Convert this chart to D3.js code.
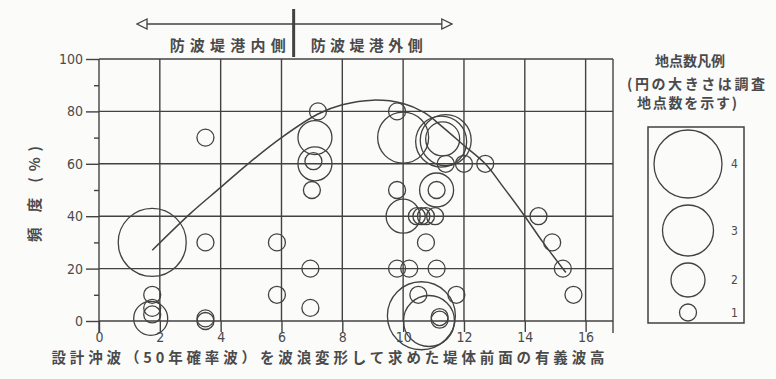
<!DOCTYPE html>
<html lang="ja">
<head>
<meta charset="UTF-8">
<title>波高と頻度</title>
<style>
  body { margin: 0; background: #fbfbfa; }
  svg { display: block; }
  text { fill: #4a4a4a; }
  .tick text { font-family: "DejaVu Sans Condensed", "Liberation Sans Narrow", sans-serif; font-size: 14px; }
  .jp { font-family: "Noto Sans CJK JP", "Noto Sans", sans-serif; font-weight: bold; }
</style>
</head>
<body>
<svg id="chart" width="776" height="379"></svg>
<script src="https://d3js.org/d3.v7.min.js"></script>
<script>
// data
const waveHeight = [1.75, 1.75, 1.75, 1.75, 1.7, 3.5, 3.5, 3.5, 3.5, 5.85, 5.85,
  7.2, 7.1, 7.1, 7.05, 7.0, 6.95, 6.95,
  9.8, 10.0, 11.4, 11.25, 11.3, 11.4, 12.0, 12.7, 11.1, 11.1, 9.8, 10.0,
  10.45, 10.6, 10.75, 11.05, 10.75, 9.8, 10.2, 11.1,
  10.6, 10.85, 10.5, 11.2, 11.2, 11.75, 14.45, 14.9, 15.25, 15.6];
const frequency = [30, 10, 5, 2.5, 1, 70, 30, 1, 0, 30, 10,
  80, 70, 60, 61, 50, 20, 5,
  80, 70, 69, 68.5, 69.5, 60, 60, 60, 50, 50, 50, 40,
  40, 40, 40, 40, 30, 20, 20, 20,
  2, 0, 10, 1.5, 0.5, 10, 40, 30, 20, 10];
const siteCount = [4, 1, 1, 1, 2, 1, 1, 1, 1, 1, 1,
  1, 2, 2, 1, 1, 1, 1,
  1, 3, 3, 3, 2, 1, 1, 1, 2, 1, 1, 2,
  1, 1, 1, 1, 1, 1, 1, 1,
  4, 3, 1, 1, 1, 1, 1, 1, 1, 1];

// trend curve
const curveX = [1.75, 3, 4, 4.9, 6, 7.2, 8, 9, 10, 10.7, 11.3, 12, 12.7, 13.3, 14, 14.6, 15.35];
const curveY = [27, 41, 51, 60, 70, 79, 82.5, 84.3, 83, 79.5, 74, 67, 60, 51, 40, 30, 18.5];

const xTicks = [0, 2, 4, 6, 8, 10, 12, 14, 16];
const yTicks = [0, 20, 40, 60, 80, 100];
const yMinor = [10, 30, 50, 70, 90];
const legendCounts = [4, 3, 2, 1];

const xTitle = "設計沖波（50年確率波）を波浪変形して求めた堤体前面の有義波高";
const yTitle = "頻 度 (%)";
const innerLabel = "防波堤港内側";
const outerLabel = "防波堤港外側";
const legendTitle = ["地点数凡例", "(円の大きさは調査", "地点数を示す)"];
const boundary = 6.4;      // 港内側／港外側 の境
const arrowSpan = [1.25, 11.6];

const ink = "#424242";
const svg = d3.select("#chart");

const x = d3.scaleLinear().domain([0, 16.9]).range([99, 613]);
const y = d3.scaleLinear().domain([0, 100]).range([321, 59]);
const r = d3.scaleLinear().domain([0, 4]).range([0, 34]);

// grid
const grid = svg.append("g").attr("stroke", ink).attr("stroke-width", 1.4);
grid.selectAll(".hg").data(yTicks.slice(1)).enter().append("line")
  .attr("x1", x(0)).attr("x2", x(16.9))
  .attr("y1", d => y(d)).attr("y2", d => y(d));
grid.selectAll(".vg").data(xTicks.slice(1)).enter().append("line")
  .attr("x1", d => x(d)).attr("x2", d => x(d))
  .attr("y1", y(100)).attr("y2", y(0));
grid.append("line").attr("x1", x(16.9)).attr("x2", x(16.9)).attr("y1", y(100)).attr("y2", y(0) + 12);
grid.append("line").attr("x1", x(0)).attr("x2", x(16.9)).attr("y1", y(0)).attr("y2", y(0));
grid.append("line").attr("x1", x(0)).attr("x2", x(0)).attr("y1", y(100)).attr("y2", y(0) + 12);

// axes
const xAxis = svg.append("g").attr("transform", `translate(0,${y(0)})`)
  .call(d3.axisBottom(x).tickValues(xTicks).tickSize(11).tickPadding(0));
const yAxis = svg.append("g").attr("transform", `translate(${x(0)},0)`)
  .call(d3.axisLeft(y).tickValues(yTicks).tickSize(13).tickPadding(3));
const yAxisMinor = svg.append("g").attr("transform", `translate(${x(0)},0)`)
  .call(d3.axisLeft(y).tickValues(yMinor).tickSize(5).tickFormat(""));
[xAxis, yAxis, yAxisMinor].forEach(g => {
  g.select(".domain").remove();
  g.selectAll(".tick line").attr("stroke", ink).attr("stroke-width", 1.4);
});

// points
const points = waveHeight.map((v, i) => ({ x: v, y: frequency[i], n: siteCount[i] }));
svg.append("g").selectAll("circle").data(points).enter().append("circle")
  .attr("cx", d => x(d.x)).attr("cy", d => y(d.y)).attr("r", d => r(d.n))
  .attr("fill", "none").attr("stroke", ink).attr("stroke-width", 1.3);

// trend curve
const line = d3.line().x(d => x(d[0])).y(d => y(d[1])).curve(d3.curveCatmullRom);
svg.append("path").datum(curveX.map((v, i) => [v, curveY[i]]))
  .attr("d", line).attr("fill", "none").attr("stroke", ink).attr("stroke-width", 1.5);

// axis titles
svg.append("text").attr("class", "jp").attr("x", 328).attr("y", 363)
  .attr("text-anchor", "middle").attr("font-size", 14.5)
  .attr("textLength", 553).attr("lengthAdjust", "spacing").text(xTitle);
svg.append("text").attr("class", "jp")
  .attr("transform", `translate(40,${y(48.5)}) rotate(-90)`)
  .attr("text-anchor", "middle").attr("font-size", 14.5)
  .attr("textLength", 96).attr("lengthAdjust", "spacing").text(yTitle);

// top annotation: arrow and divider
const arrowY = 24;
const defs = svg.append("defs");
["start", "end"].forEach(k => {
  defs.append("marker").attr("id", "arr-" + k)
    .attr("viewBox", "0 0 12 12").attr("refX", k === "end" ? 11 : 1).attr("refY", 6)
    .attr("markerWidth", 12).attr("markerHeight", 12).attr("markerUnits", "userSpaceOnUse")
    .attr("orient", "auto")
    .append("path").attr("d", k === "end" ? "M1,1 L11,6 L1,11 Z" : "M11,1 L1,6 L11,11 Z")
    .attr("fill", "#fbfbfa").attr("stroke", ink).attr("stroke-width", 1.3);
});
svg.append("line")
  .attr("x1", x(arrowSpan[0])).attr("x2", x(arrowSpan[1]))
  .attr("y1", arrowY).attr("y2", arrowY)
  .attr("stroke", ink).attr("stroke-width", 1.5)
  .attr("marker-start", "url(#arr-start)").attr("marker-end", "url(#arr-end)");
svg.append("line").attr("x1", x(boundary)).attr("x2", x(boundary))
  .attr("y1", 9).attr("y2", 57).attr("stroke", ink).attr("stroke-width", 3);
svg.append("text").attr("class", "jp").attr("x", x(boundary) - 124).attr("y", 51)
  .attr("font-size", 15).attr("textLength", 116).attr("lengthAdjust", "spacing").text(innerLabel);
svg.append("text").attr("class", "jp").attr("x", x(boundary) + 17).attr("y", 51)
  .attr("font-size", 15).attr("textLength", 112).attr("lengthAdjust", "spacing").text(outerLabel);

// legend
const lg = svg.append("g").attr("class", "jp").attr("font-size", 14);
lg.append("text").attr("x", 690).attr("y", 66).attr("text-anchor", "middle").text(legendTitle[0]);
lg.append("text").attr("x", 627).attr("y", 89).attr("textLength", 138).attr("lengthAdjust", "spacing").text(legendTitle[1]);
lg.append("text").attr("x", 637).attr("y", 108).attr("textLength", 100).attr("lengthAdjust", "spacing").text(legendTitle[2]);

const box = { x: 648, y: 127, w: 96, h: 196 };
svg.append("rect").attr("x", box.x).attr("y", box.y).attr("width", box.w).attr("height", box.h)
  .attr("fill", "none").attr("stroke", ink).attr("stroke-width", 1.5);
let cy = box.y + 3;
const legendItems = legendCounts.map(n => {
  const c = cy + r(n);
  cy = c + r(n) + 7;
  return { n, cy: c };
});
svg.append("g").selectAll("circle").data(legendItems).enter().append("circle")
  .attr("cx", 688).attr("cy", d => d.cy).attr("r", d => r(d.n))
  .attr("fill", "none").attr("stroke", ink).attr("stroke-width", 1.3);
svg.append("g").selectAll("text").data(legendItems).enter().append("text")
  .attr("x", 731).attr("y", d => d.cy).attr("dy", "0.35em")
  .attr("font-family", "DejaVu Sans Condensed, sans-serif").attr("font-size", 12)
  .text(d => d.n);
</script>
</body>
</html>
